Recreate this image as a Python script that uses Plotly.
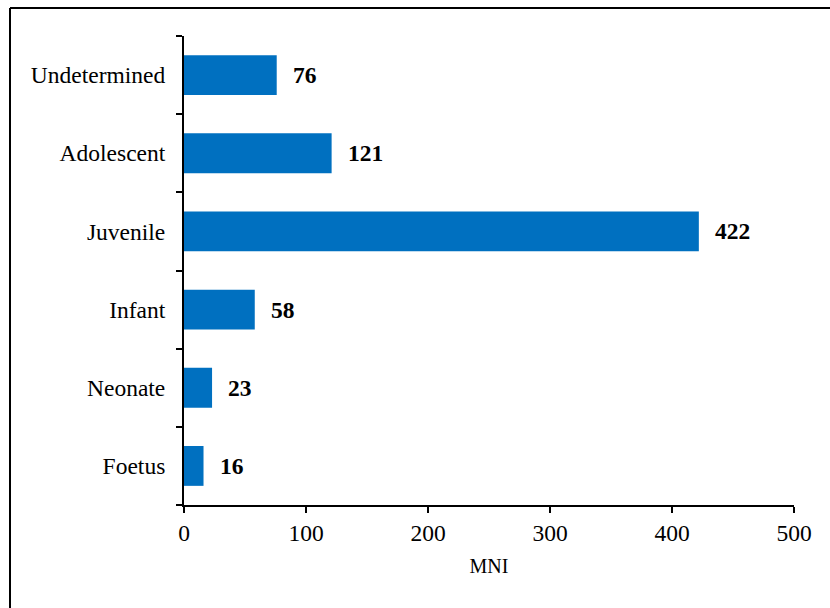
import plotly.graph_objects as go

# Minimum number of individuals (MNI) by age category
categories = ["Foetus", "Neonate", "Infant", "Juvenile", "Adolescent", "Undetermined"]
mni_values = [16, 23, 58, 422, 121, 76]
x_ticks = [0, 100, 200, 300, 400, 500]

W, H = 830, 608
M_L, M_R, M_T, M_B = 184, 36, 36, 103
FONT = "Times New Roman, Liberation Serif, serif"
BAR_COLOR = "#0070C0"

fig = go.Figure(
    go.Bar(
        x=mni_values,
        y=categories,
        orientation="h",
        marker=dict(color=BAR_COLOR, line=dict(width=0)),
        width=0.51,
        hoverinfo="x+y",
    )
)

# bold value labels just past each bar's end
for cat, val in zip(categories, mni_values):
    fig.add_annotation(
        x=val, y=cat, text=f"<b>{val}</b>", showarrow=False,
        xanchor="left", yanchor="middle", xshift=14,
        font=dict(family=FONT, size=23.5, color="black"),
    )

# outer frame (left and top edges visible inside the page)
plot_w = W - M_L - M_R
plot_h = H - M_T - M_B
def px_to_paper_x(px):
    return (px - M_L) / plot_w
def px_to_paper_y(py):
    return (H - M_B - py) / plot_h

frame_line = dict(color="black", width=2)
fig.add_shape(type="line", xref="paper", yref="paper",
              x0=px_to_paper_x(10), x1=px_to_paper_x(W + 5),
              y0=px_to_paper_y(8), y1=px_to_paper_y(8), line=frame_line)
fig.add_shape(type="line", xref="paper", yref="paper",
              x0=px_to_paper_x(10), x1=px_to_paper_x(10),
              y0=px_to_paper_y(8), y1=px_to_paper_y(H + 5), line=frame_line)

fig.update_layout(
    width=W, height=H,
    margin=dict(l=M_L, r=M_R, t=M_T, b=M_B, pad=0),
    paper_bgcolor="white", plot_bgcolor="white",
    showlegend=False,
    font=dict(family=FONT, size=23.5, color="black"),
    xaxis=dict(
        range=[0, 500], tickvals=x_ticks, ticktext=[str(v) for v in x_ticks],
        showgrid=False, zeroline=False,
        showline=True, linecolor="black", linewidth=2,
        ticks="outside", ticklen=6, tickwidth=2, tickcolor="black",
        tickfont=dict(family=FONT, size=23.5),
        title=dict(text="MNI", font=dict(family=FONT, size=20), standoff=14),
    ),
    yaxis=dict(
        type="category", categoryorder="array", categoryarray=categories,
        range=[-0.5, len(categories) - 0.5],
        showgrid=False, zeroline=False,
        showline=True, linecolor="black", linewidth=2,
        ticks="outside", ticklen=6, tickwidth=2, tickcolor="black",
        tickson="boundaries", ticklabelstandoff=12,
        tickfont=dict(family=FONT, size=23.5),
    ),
)

fig.write_html("out.html")
